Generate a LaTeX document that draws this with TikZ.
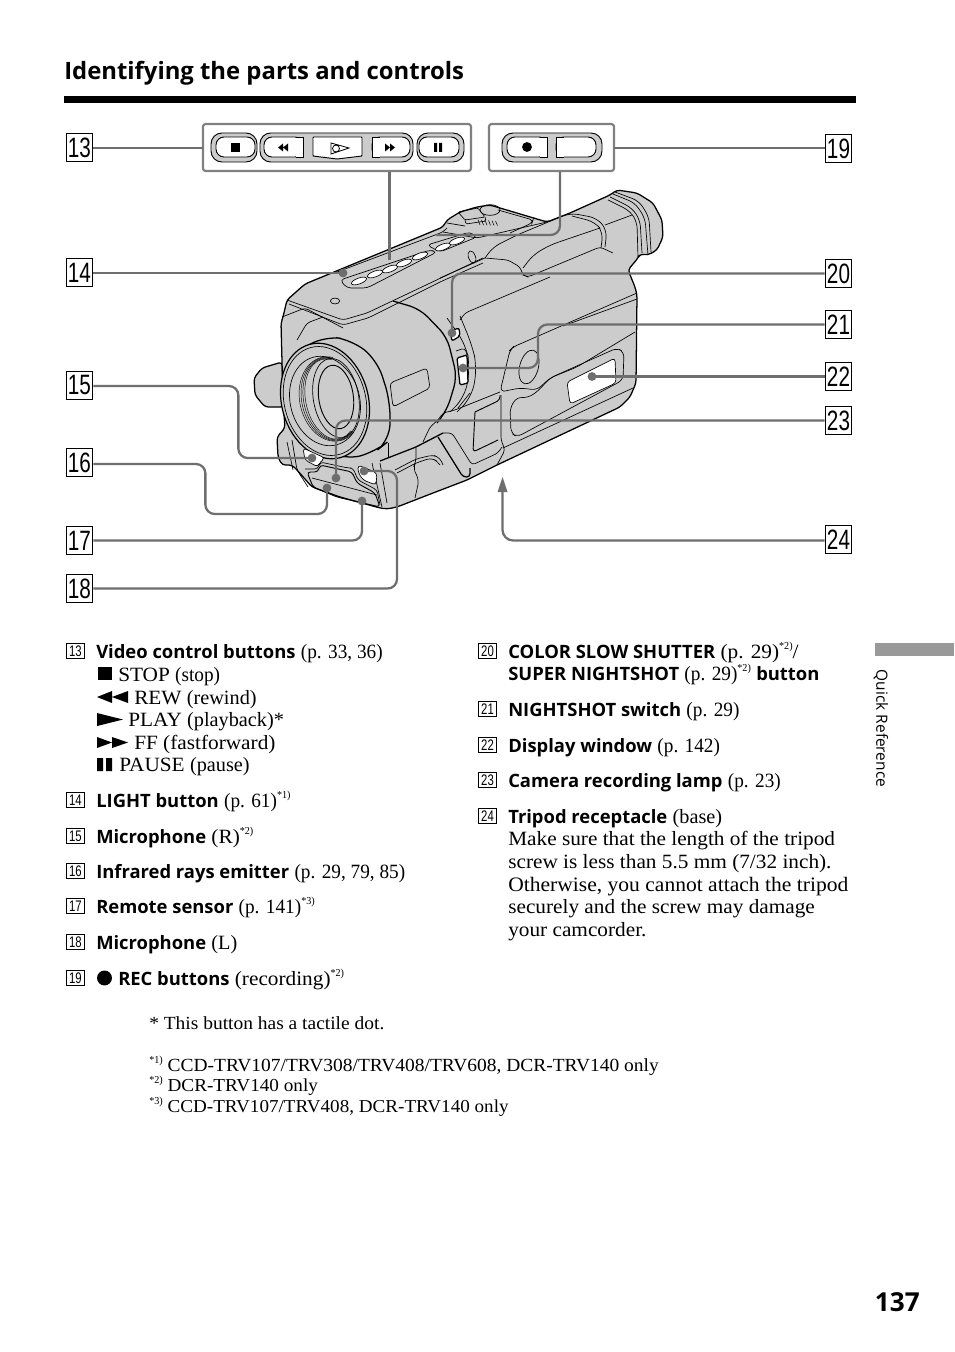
\documentclass[tikz,border=0pt]{standalone}
\usepackage{fontspec}
\usetikzlibrary{arrows.meta}
\setmainfont[FakeStretch=1.05]{Liberation Serif}
\newfontfamily\nrw[FakeStretch=0.95]{Liberation Serif}
\newfontfamily\mdw[FakeStretch=1.0]{Liberation Serif}
\newfontfamily\hd[BoldFont={Open Sans Bold}]{Open Sans}
\newfontfamily\num[FakeStretch=0.74]{Liberation Sans}
\definecolor{body}{HTML}{CCCCCC}
\definecolor{conn}{HTML}{6E6E6E}
\definecolor{frame}{HTML}{808080}
\newcommand{\bd}[1]{{\hd\bfseries\fontsize{13.8}{17}\selectfont #1}}
\newcommand{\pn}[1]{{\nrw #1}}
\newcommand{\pmd}[1]{{\mdw #1}}
\newcommand{\sps}[1]{\raisebox{0.42em}{\nrw\fontsize{8}{10}\selectfont #1}}
\tikzset{
 lab/.style={draw,line width=0.8pt,minimum width=20pt,minimum height=20.5pt,inner sep=0pt,font=\num\fontsize{21}{21}\selectfont},
 sm/.style={draw,line width=0.5pt,minimum width=13.5pt,minimum height=11.5pt,inner sep=0pt,font=\num\fontsize{11.5}{11.5}\selectfont},
 tx/.style={anchor=base west,inner sep=0pt,font=\fontsize{15.2}{18}\selectfont},
 fn/.style={anchor=base west,inner sep=0pt,font=\fontsize{13.9}{16}\selectfont},
 cn/.style={draw=conn,line width=1.7pt,rounded corners=7pt},
 dot/.style={fill=conn,draw=none},
 ln/.style={draw=black,line width=0.5pt,rounded corners=2.5pt},
 lnb/.style={draw=black,line width=0.95pt,rounded corners=2.5pt},
 pill/.style={fill=body,draw=black,line width=0.7pt,rounded corners=8.2pt},
 btn/.style={fill=white,draw=black,line width=0.7pt,rounded corners=6pt},
 ctrl/.style={draw=frame,line width=1.6pt,rounded corners=2pt,fill=white},
}
\begin{document}
\begin{tikzpicture}[x=0.75pt,y=-0.75pt]
\useasboundingbox[fill=white] (0,0) rectangle (954,1352);
% heading
\node[anchor=base west,inner sep=0pt,font=\hd\bfseries\fontsize{17.9}{20}\selectfont] (title) at (64,80) {Identifying the parts and controls};
\fill (64,96) rectangle (856,103);
% camera: knob
\path[fill=body,lnb] (282,362) -- (262,368) -- (254,378) -- (255,395) -- (265,407) -- (284,407) -- cycle;
% silhouette
\path[fill=body,lnb] (305,284) -- (443,227) -- (447,220) -- (460,212) -- (477,207) -- (490,205) -- (500,208) -- (547,222) -- (570,213) -- (610,195) -- (617,190) -- (637,193) -- (653,203) -- (662,220) -- (663,237) -- (657,250) -- (648,255) -- (640,254) -- (638,258) -- (628,270) -- (635,287) -- (637,295) -- (636,383) -- (630,397) -- (620,407) -- (497,465) -- (467,480) -- (433,493) -- (397,507) -- (387,509) -- (380,508) -- (340,497) -- (312,487) -- (297,470) -- (292,465) -- (282,465) -- (278,457) -- (277,437) -- (285,428) -- (283,400) -- (281,323) -- (283,317) -- (287,300) -- cycle;
% top plate
\path[ln] (287,300) -- (343,320) -- (367,313) -- (483,258);
\path[ln] (289,304) -- (343,325) -- (368,318) -- (440,282) -- (483,263);
\path[ln] (337,272) -- (443,232) -- (447,228);
\path[ln] (282,317) -- (305,308) -- (343,328);
\path[ln] (297,340) -- (307,323) -- (323,317);
\draw[line width=0.5pt] (335,301) ellipse[x radius=3.5pt,y radius=2.2pt];
\draw[line width=0.5pt,rotate around={20:(472,257)}] (472,257) ellipse[x radius=2.6pt,y radius=4.8pt];
% button strips
\path[ln,rounded corners=3pt] (340,280) -- (430,250) -- (437,252) -- (367,288) -- (347,288) -- cycle;
\path[ln,rounded corners=3pt] (427,245) -- (470,232) -- (477,237) -- (440,252) -- cycle;
\foreach \a/\b in {359/281,375/274,390/269,404/263,420/256,443/247,457/241}
  \draw[fill=white,line width=0.5pt,rotate around={20:(\a,\b)}] (\a,\b) ellipse[x radius=6pt,y radius=2.2pt];
% dial and plate
\draw[line width=0.5pt] (490,210) ellipse[x radius=7.5pt,y radius=4pt];
\path[ln,rounded corners=1pt] (458,212) -- (478,208) -- (485,217) -- (465,220) -- cycle;
\path[ln,rounded corners=1pt] (465,220) -- (466,224) -- (486,221) -- (485,217);
\foreach \i in {0,...,5} \draw[line width=0.4pt] ({478+\i*3.5},{219.5+\i*0.3}) -- ({480+\i*3.5},{225+\i*0.1});
\path[ln] (447,223) -- (465,226);
\path[ln] (498,210) -- (533,220) -- (532,223) -- (510,233);
\path[ln] (443,232) -- (477,238) -- (547,222);
\path[ln] (440,278) -- (485,258);
% hump and viewfinder
\path[ln] (485,258) -- (508,260) -- (520,267) -- (523,275) -- (528,277) -- (600,247) -- (613,253);
\path[ln,rounded corners=6pt] (485,258) -- (493,247) -- (517,235) -- (570,213) -- (597,218) -- (607,230) -- (605,247);
\path[ln,rounded corners=6pt] (572,216) -- (595,222) -- (603,232) -- (601,248);
\path[ln,rounded corners=6pt] (523,268) -- (533,255) -- (550,245) -- (600,228);
\path[ln] (605,225) -- (632,215);
\path[ln,rounded corners=5pt] (610,197) -- (632,208) -- (640,220) -- (642,253);
\path[ln,rounded corners=5pt] (608,200) -- (630,211) -- (637,222) -- (638,258);
\path[ln,rounded corners=5pt] (613,194) -- (635,203) -- (645,218) -- (648,255);
\path[ln,rounded corners=5pt] (615,192) -- (639,201) -- (649,217) -- (651,252);
% side panels
\path[ln] (460,320) -- (465,313) -- (550,277);
\path[ln] (563,326) -- (637,299);
\path[ln,rounded corners=4pt] (635,332) -- (577,367) -- (550,378) -- (537,390) -- (520,388) -- (500,392) -- (510,350) -- (513,347) -- (637,293);
\path[ln,rounded corners=4pt] (517,397) -- (510,408) -- (511,433) -- (517,437) -- (623,380) -- (624,352) -- (617,348) -- (550,378) -- (537,392) -- (527,398) -- cycle;
\path[fill=white,ln] (567,382) -- (615,358) -- (616,383) -- (570,404) -- cycle;
\draw[line width=0.5pt,rotate around={-15:(529,367)}] (529,367) ellipse[x radius=7pt,y radius=13pt];
\path[lnb,line width=0.7pt] (475,412) -- (500,400) -- (500,395);
\path[lnb,line width=0.7pt] (475,412) -- (473,452) -- (498,440);
\path[ln] (501,395) -- (501,440) -- (505,450) -- (497,465);
\path[ln] (503,448) -- (633,388);
% grip
\path[ln] (423,442) -- (430,427) -- (438,420) -- (443,413) -- (455,410) -- (500,392);
\path[ln] (458,408) -- (470,393);
\path[lnb] (380,461) -- (416,447) -- (443,433);
\path[ln] (443,433) -- (452,433) -- (472,465) -- (498,453) -- (502,447);
\path[lnb] (438,437) -- (463,477) -- (470,477) -- (470,468);
\path[ln,rounded corners=4pt] (416,447) -- (416,462) -- (413,468) -- (419,480) -- (415,498);
\path[ln,rounded corners=3pt] (395,470) -- (416,459) -- (433,455) -- (440,458) -- (443,465);
\path[ln,rounded corners=3pt] (397,473) -- (416,463) -- (431,458) -- (437,461) -- (440,465);
\path[ln] (388,443) -- (388,458);
% barrel arcs
\path[lnb,rounded corners=8pt] (393,301) -- (420,309) -- (447,337) -- (457,377) -- (447,410) -- (437,423);
\path[ln,rounded corners=10pt] (460,316) -- (472,345) -- (477,367) -- (472,397) -- (457,412);
\path[ln,rounded corners=10pt] (447,318) -- (466,345) -- (470,367) -- (465,397) -- (450,412);
\path[lnb,fill=body,rounded corners=12pt] (296,352) -- (325,336) -- (352,340) -- (377,360) -- (390,400) -- (390,440) -- (375,452) -- (345,460) -- (305,440) -- cycle;
\path[ln] (390,383) -- (427,368) -- (430,388) -- (393,407) -- cycle;
% lens
\draw[fill=body,line width=0.9pt,rotate around={15:(325,401)}] (325,401) ellipse[x radius=32.5pt,y radius=44pt];
\draw[line width=0.5pt,rotate around={15:(325,401)}] (325,401) ellipse[x radius=30.5pt,y radius=41.5pt];
\draw[line width=0.5pt,rotate around={15:(325,401)}] (325,401) ellipse[x radius=26pt,y radius=34pt];
\begin{scope}[rotate around={12:(331,399)}]
\foreach \r/\s in {19/30.5,20.5/31,22/31.5,23.5/32}
  \draw[line width=0.35pt] ([shift={(70:\r pt and \s pt)}]331,399) arc[start angle=70,end angle=300,x radius=\r pt,y radius=\s pt];
\end{scope}
\draw[line width=0.5pt,rotate around={10:(336,398)}] (336,398) ellipse[x radius=17pt,y radius=30pt];
\draw[line width=0.7pt,rotate around={8:(336,397)}] (336,397) ellipse[x radius=13pt,y radius=24pt];
% front panel
\path[ln] (292,440) -- (297,470) -- (308,487);
\path[ln] (287,442) -- (293,470);
\path[ln] (372,463) -- (382,507);
\path[ln] (380,463) -- (387,503);
\path[fill=white,ln] (303,448) -- (325,458) -- (320,462) -- (318,467) -- (305,460) -- cycle;
\path[fill=white,ln] (358,465) -- (377,473) -- (376,485) -- (363,480) -- (358,472) -- cycle;
\path[lnb,line width=0.7pt] (307,472) -- (318,472) -- (320,465) -- (352,472) -- (357,483) -- (375,493) -- (380,507) -- (337,497) -- (313,487) -- cycle;
\path[ln] (305,469) -- (318,469) -- (320,462) -- (348,468) -- (353,468) -- (358,480) -- (377,490) -- (380,505);
\path[ln] (312,478) -- (377,495);
% switches
\path[fill=white,lnb,rounded corners=1.5pt] (450,331) -- (459,328) -- (460,336) -- (452,341) -- cycle;
\path[fill=white,lnb,rounded corners=1pt] (457,358) -- (467,355) -- (468,383) -- (460,385) -- cycle;
\path[ln] (456,351) -- (465,348) -- (467,355);
% control boxes
\path[ctrl] (203,124) rectangle (471,171);
\path[ctrl] (489,124) rectangle (614,171);
\path[pill] (211,133) rectangle (257,162);
\path[btn] (216,137) rectangle (255,157);
\path[pill,rounded corners=8pt] (260,133) rectangle (413,162);
\path[fill=white,draw=black,line width=0.7pt,rounded corners=0.5pt] (313,137) -- (362,137) -- (362,156) -- (337,159) -- (313,156) -- cycle;
\path[btn] (264,137) rectangle (303,157);
\path[fill=white] (296,137.4) rectangle (303.4,156.6);
\draw[line width=0.7pt] (296,137) -- (303,137) -- (303,157) -- (296,157);
\path[btn] (372,137) rectangle (410,157);
\path[fill=white] (371.6,137.4) rectangle (380,156.6);
\draw[line width=0.7pt] (380,137) -- (372,137) -- (372,157) -- (380,157);
\path[pill] (417,133) rectangle (464,162);
\path[btn] (419,137) rectangle (459,157);
\fill (231,143) rectangle (240,152);
\fill (278,147.5) -- (283,143.5) -- (283,151.5) -- cycle (283,147.5) -- (288,143.5) -- (288,151.5) -- cycle;
\draw[line width=0.6pt] (331,143) -- (349,148) -- (331,154) -- cycle (336,148.5) circle[radius=2.6pt];
\fill (385,143.5) -- (390,147.5) -- (385,151.5) -- cycle (390,143.5) -- (395,147.5) -- (390,151.5) -- cycle;
\fill (434,143) rectangle (437,152) (439,143) rectangle (442,152);
\path[pill] (502,133) rectangle (602,162);
\path[btn] (507,137) rectangle (547,157);
\path[fill=white] (540,137.4) rectangle (547.4,156.6);
\draw[line width=0.7pt] (540,137) -- (547,137) -- (547,157) -- (540,157);
\path[btn] (556,137) rectangle (596,157);
\path[fill=white] (555.6,137.4) rectangle (564,156.6);
\draw[line width=0.7pt] (564,137) -- (556,137) -- (556,157) -- (564,157);
\fill (527,147) circle[radius=3.7pt];
% callout labels
\node[lab] (L13) at (79.5,147.5) {13};
\node[lab] (L14) at (79.5,272.5) {14};
\node[lab] (L15) at (79.5,385.5) {15};
\node[lab] (L16) at (79.5,462.5) {16};
\node[lab] (L17) at (79.5,540.5) {17};
\node[lab] (L18) at (79.5,588.5) {18};
\node[lab] (L19) at (838.5,148.5) {19};
\node[lab] (L20) at (838.5,273.5) {20};
\node[lab] (L21) at (838.5,324.5) {21};
\node[lab] (L22) at (838.5,376.5) {22};
\node[lab] (L23) at (838.5,420.5) {23};
\node[lab] (L24) at (838.5,539.5) {24};
\coordinate (boxA) at (203,148);
\coordinate (boxB) at (614,148);
\coordinate (boxAb) at (389.5,172);
\coordinate (boxBb) at (560,172);
\foreach \n/\a/\b in {d14/343/273,d15/312/458,d16/327/488,d17/362/501,d18/364/471,d20/452/333,d21/463/368,d22/592/376.5,d23/336/478}
  {\coordinate (\n) at (\a,\b); \fill[dot] (\a,\b) circle[radius=3.3pt];}
\coordinate (eA) at (389.5,260);
\coordinate (eB) at (436,235);
\coordinate (tip) at (502.5,477);
% connectors
\draw[cn] (L13.east |- boxA) -- (boxA);
\draw[cn] (L14.east |- d14) -- (d14);
\draw[cn] (L15.east) ++(0,0.5) -- ++(145,0) |- (d15);
\draw[cn] (L16.east) ++(0,1.5) -- ++(112,0) -- ++(0,50) -| (d16);
\draw[cn] (L17.east) -| (d17);
\draw[cn] (L18.east) -| (397,471) -- (d18);
\draw[cn] (boxB) -- (L19.west |- boxB);
\draw[cn] (boxAb) -- (eA);
\draw[cn] (boxBb) |- (eB);
\draw[cn] (L20.west) -| (d20);
\draw[cn] (L21.west) -| (538,368) -- (d21);
\draw[cn] (L22.west) -- (d22);
\draw[cn] (L23.west) -| (d23);
\draw[cn,rounded corners=8pt] (L24.west) ++(0,1) -- (502.5,540.5) -- (502.5,490);
\fill[conn] (tip) -- (507.5,492) -- (497.5,492) -- cycle;
% column 1
\node[sm] (n13) at (75.5,651) {13};
\node[tx] (t13) at (96,658) {\bd{Video control buttons} \pn{(p. 33, 36)}};
\node[tx] (t13a) at (118,681) {STOP \pn{(stop)}};
\node[tx] (t13b) at (134,704) {REW \pmd{(rewind)}};
\node[tx] (t13c) at (128,726) {PLAY \pmd{(playback)*}};
\node[tx] (t13d) at (134,749) {FF (fastforward)};
\node[tx] (t13e) at (119,771) {PAUSE \pmd{(pause)}};
\fill (98,667) rectangle (112,680);
\fill (97,697) -- (112,691) -- (112,703) -- cycle (112,697) -- (128,691) -- (128,703) -- cycle;
\fill (97,713) -- (123,719.5) -- (97,726) -- cycle;
\fill (97,737) -- (112,742.5) -- (97,748) -- cycle (112,737) -- (128,742.5) -- (112,748) -- cycle;
\fill (97,758) rectangle (103,771) (106,758) rectangle (112,771);
\node[sm] (n14) at (75.5,800) {14};
\node[tx] (t14) at (96,807) {\bd{LIGHT button} \pn{(p. 61)}\sps{*1)}};
\node[sm] (n15) at (75.5,836) {15};
\node[tx] (t15) at (96,843) {\bd{Microphone} (R)\sps{*2)}};
\node[sm] (n16) at (75.5,871) {16};
\node[tx] (t16) at (96,878) {\bd{Infrared rays emitter} \pn{(p. 29, 79, 85)}};
\node[sm] (n17) at (75.5,906) {17};
\node[tx] (t17) at (96,913) {\bd{Remote sensor} \pn{(p. 141)}\sps{*3)}};
\node[sm] (n18) at (75.5,942) {18};
\node[tx] (t18) at (96,949) {\bd{Microphone} \pmd{(L)}};
\node[sm] (n19) at (75.5,978) {19};
\fill (104.5,978) circle[radius=5.6pt];
\node[tx] (t19) at (118,985) {\bd{REC buttons} (recording)\sps{*2)}};
% column 2
\node[sm] (n20) at (487.5,651) {20};
\node[tx] (t20) at (508,658) {\bd{COLOR SLOW SHUTTER} (p. 29)\sps{*2)}/};
\node[tx] (t20b) at (508,680) {\bd{SUPER NIGHTSHOT} \pn{(p. 29)}\sps{*2)} \bd{button}};
\node[sm] (n21) at (487.5,709) {21};
\node[tx] (t21) at (508,716) {\bd{NIGHTSHOT switch} \pn{(p. 29)}};
\node[sm] (n22) at (487.5,745) {22};
\node[tx] (t22) at (508,752) {\bd{Display window} \pn{(p. 142)}};
\node[sm] (n23) at (487.5,780) {23};
\node[tx] (t23) at (508,787) {\bd{Camera recording lamp} \pn{(p. 23)}};
\node[sm] (n24) at (487.5,816) {24};
\node[tx] (t24) at (508,823) {\bd{Tripod receptacle} \pmd{(base)}};
\node[tx] (t24a) at (508,845) {Make sure that the length of the tripod};
\node[tx] (t24b) at (508,868) {screw is less than 5.5 mm (7/32 inch).};
\node[tx,font=\fontsize{15.4}{18}\selectfont] (t24c) at (508,891) {Otherwise, you cannot attach the tripod};
\node[tx] (t24d) at (508,913) {securely and the screw may damage};
\node[tx] (t24e) at (508,936) {your camcorder.};
% footnotes
\node[fn] (f0) at (149,1029) {* This button has a tactile dot.};
\node[fn] (f1) at (149,1071) {\sps{*1)} CCD-TRV107/TRV308/TRV408/TRV608, DCR-TRV140 only};
\node[fn] (f2) at (149,1091) {\sps{*2)} {\fontsize{13.7}{16}\selectfont DCR-TRV140 only}};
\node[fn] (f3) at (149,1112) {\sps{*3)} {\fontsize{13.65}{16}\selectfont CCD-TRV107/TRV408, DCR-TRV140 only}};
% side tab
\fill[black!40] (875,643) rectangle (954,656);
\node[inner sep=0pt,anchor=center,rotate=-90,font=\hd\fontsize{11.6}{14}\selectfont] (qr) at (881,728.5) {Quick Reference};
\node[anchor=base east,inner sep=0pt,font=\hd\bfseries\fontsize{19.6}{24}\selectfont] (pg) at (920,1311) {137};
\end{tikzpicture}
\end{document}
